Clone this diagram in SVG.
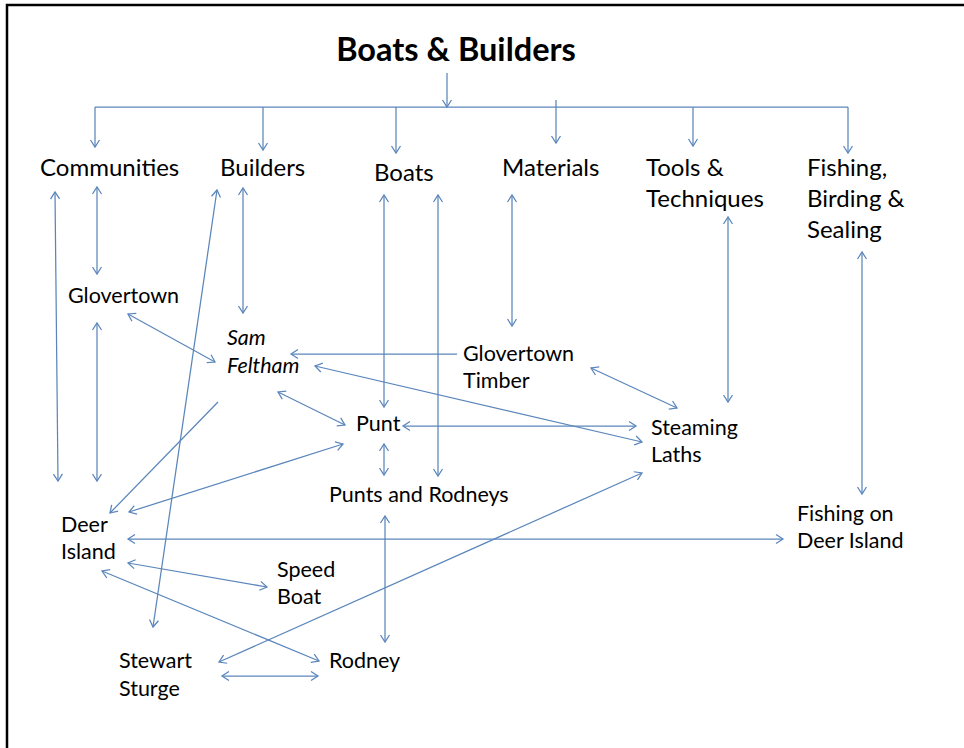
<svg xmlns="http://www.w3.org/2000/svg" width="964" height="748" viewBox="0 0 964 748">
<style>
.t{font-family:Lato,"Liberation Sans",sans-serif;fill:#000}
.h{font-size:24px}
.n{font-size:21.5px}
.i{font-style:italic}
.title{font-size:32.5px;font-weight:bold}
.c{fill:none;stroke:#5a86bb;stroke-width:1.25}
.b{marker-start:url(#ah);marker-end:url(#ah)}
.e{marker-end:url(#ah)}
</style>
<defs>
<marker id="ah" markerUnits="userSpaceOnUse" markerWidth="14" markerHeight="14" viewBox="-10 -7 14 14" refX="0" refY="0" orient="auto-start-reverse">
<path d="M-7,-4.5 L0,0 L-7,4.5" fill="none" stroke="#5a86bb" stroke-width="1.25"/>
</marker>
</defs>
<rect width="964" height="748" fill="#fff"/>
<path d="M7,748 V5 H964" fill="none" stroke="#000" stroke-width="2.5"/>
<g id="connectors">
<path class="c e" d="M447,73 V107"/>
<path class="c" d="M95,107 H848"/>
<path class="c e" d="M95,107 V147"/>
<path class="c e" d="M263,107 V150"/>
<path class="c e" d="M396,107 V153"/>
<path class="c e" d="M556,100 V143"/>
<path class="c e" d="M693,107 V146"/>
<path class="c e" d="M848,107 V153"/>
<path class="c b" d="M97,187 L97,274"/>
<path class="c b" d="M55,192 L58,481"/>
<path class="c b" d="M97,323 L97,481"/>
<path class="c b" d="M243,188 L243,313"/>
<path class="c b" d="M217,190 L153,627"/>
<path class="c b" d="M128,314 L215,362"/>
<path class="c b" d="M315,366 L642,442"/>
<path class="c b" d="M278,392 L345,425"/>
<path class="c b" d="M343,444 L129,512"/>
<path class="c b" d="M384,195 L384,407"/>
<path class="c b" d="M438,195 L438,476"/>
<path class="c b" d="M384,444 L384,475"/>
<path class="c b" d="M403,426 L636,426"/>
<path class="c b" d="M512,195 L512,326"/>
<path class="c b" d="M591,368 L677,408"/>
<path class="c b" d="M728,217 L728,402"/>
<path class="c b" d="M862,252 L862,494"/>
<path class="c b" d="M128,539 L783,539"/>
<path class="c b" d="M385,516 L385,642"/>
<path class="c b" d="M642,473 L219,662"/>
<path class="c b" d="M128,563 L267,587"/>
<path class="c b" d="M102,571 L319,661"/>
<path class="c b" d="M222,676 L318,676"/>
<path class="c e" d="M457,354 L291,354"/>
<path class="c e" d="M218,402 L110,513"/>
</g>
<g id="title"><text class="t title" x="456" y="61" text-anchor="middle">Boats &amp; Builders</text></g>
<g id="communities"><text class="t h" x="40" y="176">Communities</text></g>
<g id="builders"><text class="t h" x="220" y="176">Builders</text></g>
<g id="boats"><text class="t h" x="374" y="181">Boats</text></g>
<g id="materials"><text class="t h" x="502" y="176">Materials</text></g>
<g id="tools"><text class="t h" x="646" y="176">Tools &amp;<tspan x="646" y="207">Techniques</tspan></text></g>
<g id="fishing-birding"><text class="t h" x="807" y="176">Fishing,<tspan x="807" y="207">Birding &amp;</tspan><tspan x="807" y="238">Sealing</tspan></text></g>
<g id="glovertown"><text class="t n" x="68" y="303">Glovertown</text></g>
<g id="sam-feltham"><text class="t n i" x="227" y="345">Sam<tspan x="227" y="373">Feltham</tspan></text></g>
<g id="glovertown-timber"><text class="t n" x="463" y="361">Glovertown<tspan x="463" y="388">Timber</tspan></text></g>
<g id="punt"><text class="t n" x="356" y="431">Punt</text></g>
<g id="steaming-laths"><text class="t n" x="651" y="435">Steaming<tspan x="651" y="462">Laths</tspan></text></g>
<g id="punts-rodneys"><text class="t n" x="329" y="502">Punts and Rodneys</text></g>
<g id="deer-island"><text class="t n" x="61" y="532">Deer<tspan x="61" y="559">Island</tspan></text></g>
<g id="fishing-deer"><text class="t n" x="797" y="521">Fishing on<tspan x="797" y="548">Deer Island</tspan></text></g>
<g id="speed-boat"><text class="t n" x="277" y="577">Speed<tspan x="277" y="604">Boat</tspan></text></g>
<g id="stewart-sturge"><text class="t n" x="119" y="668">Stewart<tspan x="119" y="696">Sturge</tspan></text></g>
<g id="rodney"><text class="t n" x="329" y="668">Rodney</text></g>
</svg>
